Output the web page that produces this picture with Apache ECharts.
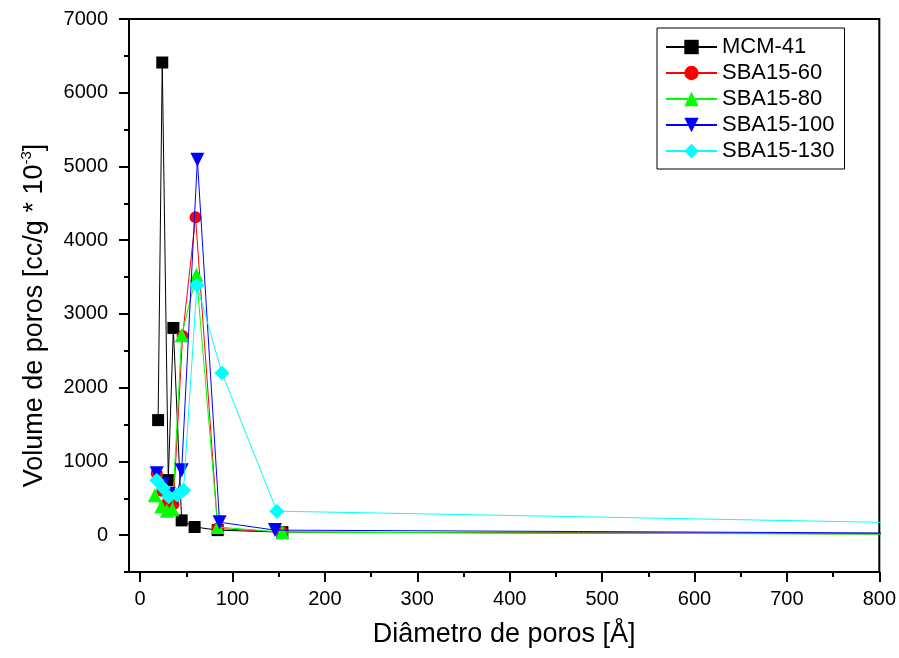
<!DOCTYPE html>
<html>
<head>
<meta charset="utf-8">
<script src="https://cdn.jsdelivr.net/npm/echarts@6/dist/echarts.min.js"></script>
<style>html,body{margin:0;padding:0;background:#fff;}#c{width:899px;height:658px;}</style>
</head>
<body>
<div id="c"></div>
<script>
// Data
const seriesNames = ['MCM-41', 'SBA15-60', 'SBA15-80', 'SBA15-100', 'SBA15-130'];
const mcmX = [19.5, 24, 30.5, 36, 45, 59, 84, 154, 1000];
const mcmY = [1560, 6410, 746, 2810, 200, 110, 68, 40, 15];
const sba60X = [18, 24, 30, 36, 46, 60, 84, 154, 1000];
const sba60Y = [840, 600, 450, 420, 2700, 4310, 90, 40, 10];
const sba80X = [16, 23, 29, 35, 45, 61, 84, 154, 1000];
const sba80Y = [540, 390, 330, 350, 2710, 3530, 110, 40, 5];
const sba100X = [18, 25, 31, 40, 45, 62, 86, 146, 1000];
const sba100Y = [840, 690, 560, 520, 880, 5090, 175, 68, 18];
const sba130X = [18, 25, 31, 40, 47, 61.5, 88.5, 148, 1000];
const sba130Y = [746, 640, 520, 545, 610, 3390, 2200, 325, 128];
const xMajorTicks = [0, 100, 200, 300, 400, 500, 600, 700, 800];
const xMinorTicks = [50, 150, 250, 350, 450, 550, 650, 750];
const yMajorTicks = [0, 1000, 2000, 3000, 4000, 5000, 6000, 7000];
const yMinorTicks = [-500, 500, 1500, 2500, 3500, 4500, 5500, 6500];

const FONT = '"Liberation Sans", Arial, Helvetica, sans-serif';
function zip(xs, ys) { return xs.map((x, i) => [x, ys[i]]); }

const colors = ['#000000', '#ff0000', '#00ff00', '#0000ff', '#00ffff'];
const symbols = ['rect', 'circle', 'triangle', 'triangle', 'diamond'];
const sizes = [12, 12, 14, 14, 15];
const rotates = [0, 0, 0, 180, 0];
const datasets = [zip(mcmX, mcmY), zip(sba60X, sba60Y), zip(sba80X, sba80Y), zip(sba100X, sba100Y), zip(sba130X, sba130Y)];

const chart = echarts.init(document.getElementById('c'), null, {renderer: 'canvas'});
const axisLineStyle = {color: '#000', width: 2};
const plain = v => String(v);
chart.setOption({
  animation: false,
  backgroundColor: '#fff',
  textStyle: {fontFamily: FONT},
  grid: {left: 129, right: 19, top: 19, bottom: 86, show: true, borderColor: '#000', borderWidth: 2},
  legend: {
    orient: 'vertical', left: 657, top: 28,
    itemWidth: 51, itemHeight: 18, itemGap: 4,
    padding: [8, 10, 7, 8],
    borderColor: '#000', borderWidth: 1,
    textStyle: {fontFamily: FONT, fontSize: 22, color: '#000', lineHeight: 22},
    data: seriesNames
  },
  xAxis: [{
    type: 'value', min: -12, max: 800, position: 'bottom',
    name: 'Diâmetro de poros [Å]', nameLocation: 'middle', nameGap: 49,
    nameTextStyle: {fontFamily: FONT, fontSize: 27, color: '#000'},
    axisLine: {show: true, onZero: false, lineStyle: axisLineStyle},
    axisTick: {show: true, customValues: xMajorTicks, length: 10, lineStyle: {color: '#000', width: 2}},
    axisLabel: {show: true, customValues: xMajorTicks, formatter: plain, margin: 17, fontFamily: FONT, fontSize: 20, color: '#000'},
    splitLine: {show: false}
  }, {
    type: 'value', min: -12, max: 800, position: 'bottom',
    axisLine: {show: false, onZero: false},
    axisTick: {show: true, customValues: xMinorTicks, length: 5, lineStyle: {color: '#000', width: 2}},
    axisLabel: {show: false},
    splitLine: {show: false}
  }],
  yAxis: [{
    type: 'value', min: -500, max: 7000, position: 'left',
    name: '{a|Volume de poros [cc/g * 10}{s|-3}{a|]}', nameLocation: 'middle', nameGap: 79,
    nameTextStyle: {fontFamily: FONT, fontSize: 27, color: '#000', padding: [0, 40, 0, 0],
      rich: {a: {fontFamily: FONT, fontSize: 27, color: '#000'},
             s: {fontFamily: FONT, fontSize: 15, color: '#000', padding: [0, 0, 16, 0]}}},
    axisLine: {show: true, onZero: false, lineStyle: axisLineStyle},
    axisTick: {show: true, customValues: yMajorTicks, length: 10, lineStyle: {color: '#000', width: 2}},
    axisLabel: {show: true, customValues: yMajorTicks, formatter: plain, margin: 21, fontFamily: FONT, fontSize: 20, color: '#000'},
    splitLine: {show: false}
  }, {
    type: 'value', min: -500, max: 7000, position: 'left',
    axisLine: {show: false, onZero: false},
    axisTick: {show: true, customValues: yMinorTicks, length: 5, lineStyle: {color: '#000', width: 2}},
    axisLabel: {show: false},
    splitLine: {show: false}
  }],
  series: seriesNames.map((n, i) => ({
    name: n, type: 'line', xAxisIndex: 0, yAxisIndex: 0,
    data: datasets[i],
    symbol: symbols[i], symbolSize: sizes[i], symbolRotate: rotates[i],
    showAllSymbol: true, clip: true,
    lineStyle: {color: colors[i], width: 1},
    itemStyle: {color: colors[i], borderWidth: 0},
    z: 2 + i
  }))
});
</script>
</body>
</html>
